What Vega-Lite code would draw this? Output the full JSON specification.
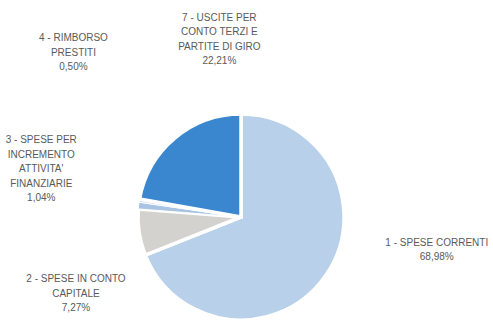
{
  "$schema": "https://vega.github.io/schema/vega-lite/v6.json",
  "width": 482,
  "height": 210,
  "padding": {"left": 0, "top": 112, "right": 11, "bottom": 0},
  "autosize": {"type": "none"},
  "background": "white",
  "config": {"view": {"stroke": null}},
  "data": {
    "values": [
      {"voce": "1 - SPESE CORRENTI", "label": "1 - SPESE CORRENTI\n68,98%", "pct": 68.98},
      {"voce": "2 - SPESE IN CONTO CAPITALE", "label": "2 - SPESE IN CONTO\nCAPITALE\n7,27%", "pct": 7.27},
      {"voce": "3 - SPESE PER INCREMENTO ATTIVITA' FINANZIARIE", "label": "3 - SPESE PER\nINCREMENTO\nATTIVITA'\nFINANZIARIE\n1,04%", "pct": 1.04},
      {"voce": "4 - RIMBORSO PRESTITI", "label": "4 - RIMBORSO\nPRESTITI\n0,50%", "pct": 0.5},
      {"voce": "7 - USCITE PER CONTO TERZI E PARTITE DI GIRO", "label": "7 - USCITE PER\nCONTO TERZI E\nPARTITE DI GIRO\n22,21%", "pct": 22.21}
    ]
  },
  "encoding": {
    "theta": {"field": "pct", "type": "quantitative", "stack": true},
    "order": {"field": "voce", "sort": "ascending"}
  },
  "layer": [
    {
      "mark": {"type": "arc", "outerRadius": 103, "stroke": "white"},
      "encoding": {
        "color": {
          "field": "voce",
          "type": "nominal",
          "scale": {
            "domain": ["1 - SPESE CORRENTI", "2 - SPESE IN CONTO CAPITALE", "3 - SPESE PER INCREMENTO ATTIVITA' FINANZIARIE", "4 - RIMBORSO PRESTITI", "7 - USCITE PER CONTO TERZI E PARTITE DI GIRO"],
            "range": ["#b8d0ea", "#d4d2cf", "#a9c4e3", "#cfdff0", "#3b87cf"]
          },
          "legend": null
        },
        "strokeWidth": {"condition": {"test": "datum.pct < 2", "value": 1}, "value": 3.5}
      }
    },
    {
      "mark": {"type": "text", "radius": 181, "dx": 46, "dy": -76, "font": "Liberation Sans", "fontSize": 10, "lineHeight": 14.5, "lineBreak": "\n", "align": "center", "baseline": "middle", "fill": "#595959"},
      "encoding": {
        "detail": {"field": "voce"},
        "text": {"condition": {"test": "datum.voce == '1 - SPESE CORRENTI'", "field": "label"}, "value": ""}
      }
    },
    {
      "mark": {"type": "text", "radius": 175, "dx": 8, "dy": 36, "font": "Liberation Sans", "fontSize": 10, "lineHeight": 14.5, "lineBreak": "\n", "align": "center", "baseline": "middle", "fill": "#595959"},
      "encoding": {
        "detail": {"field": "voce"},
        "text": {"condition": {"test": "datum.voce == '2 - SPESE IN CONTO CAPITALE'", "field": "label"}, "value": ""}
      }
    },
    {
      "mark": {"type": "text", "radius": 204, "dx": 3, "dy": -54, "font": "Liberation Sans", "fontSize": 10, "lineHeight": 14.5, "lineBreak": "\n", "align": "center", "baseline": "middle", "fill": "#595959"},
      "encoding": {
        "detail": {"field": "voce"},
        "text": {"condition": {"test": "datum.voce == \"3 - SPESE PER INCREMENTO ATTIVITA' FINANZIARIE\"", "field": "label"}, "value": ""}
      }
    },
    {
      "mark": {"type": "text", "radius": 192, "dx": 22, "dy": -148, "font": "Liberation Sans", "fontSize": 10, "lineHeight": 14.5, "lineBreak": "\n", "align": "center", "baseline": "middle", "fill": "#595959"},
      "encoding": {
        "detail": {"field": "voce"},
        "text": {"condition": {"test": "datum.voce == '4 - RIMBORSO PRESTITI'", "field": "label"}, "value": ""}
      }
    },
    {
      "mark": {"type": "text", "radius": 152, "dx": 76, "dy": -83, "font": "Liberation Sans", "fontSize": 10, "lineHeight": 14.5, "lineBreak": "\n", "align": "center", "baseline": "middle", "fill": "#595959"},
      "encoding": {
        "detail": {"field": "voce"},
        "text": {"condition": {"test": "datum.voce == '7 - USCITE PER CONTO TERZI E PARTITE DI GIRO'", "field": "label"}, "value": ""}
      }
    }
  ]
}
